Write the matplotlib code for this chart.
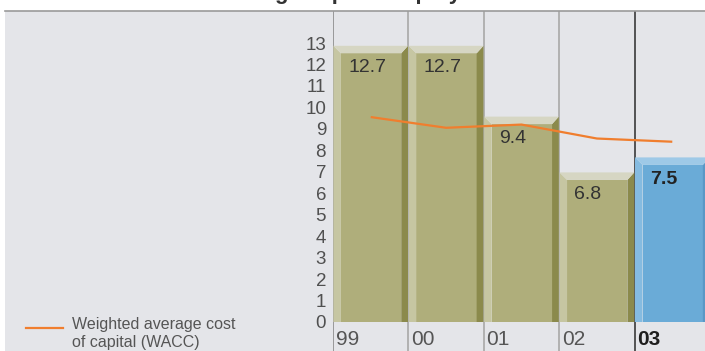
import matplotlib
matplotlib.use("Agg")
import matplotlib.pyplot as plt
from matplotlib.patches import Polygon, Rectangle
from matplotlib.lines import Line2D

plt.rcParams['font.family'] = ['Liberation Sans', 'DejaVu Sans']

# ---- data ----
years = ["99", "00", "01", "02", "03"]
roace = [12.7, 12.7, 9.4, 6.8, 7.5]
wacc = [9.55, 9.05, 9.2, 8.55, 8.4]
y_ticks = list(range(0, 14))
title = "Return on average capital employed"
legend_label = "Weighted average cost\nof capital (WACC)"

W, H = 705, 351
fig = plt.figure(figsize=(W / 100, H / 100), dpi=100)
fig.patch.set_facecolor("white")

# grey panel
panel_top = 10.5
fig.add_artist(Rectangle((5 / W, 0), 1, 1 - panel_top / H, transform=fig.transFigure,
                         facecolor="#e4e5e9", edgecolor="none", zorder=0))
fig.add_artist(Line2D([5 / W, 1], [1 - panel_top / H] * 2, transform=fig.transFigure,
                      color="#9a9a9a", lw=1.2, zorder=1))

# clipped title (only descenders visible, as in the reference)
fig.text(106 / W, 1 + 1.5 / H, title, ha="left", va="baseline", fontsize=16,
         fontweight="bold", color="#333333")

# axes in pixel geometry
x0 = 333
col = 75.4
zero_px = 322
unit = 21.46
ax = fig.add_axes([x0 / W, 0, (W - x0) / W, (H - panel_top) / H])
ax.set_facecolor("none")
ax.set_xlim(-0.5, -0.5 + (W - x0) / col)
ax.set_ylim(-(H - zero_px) / unit, (zero_px - panel_top) / unit)
for s in ax.spines.values():
    s.set_visible(False)
ax.set_xticks([])
ax.set_yticks(y_ticks)
ax.set_yticklabels([str(t) for t in y_ticks])
ax.tick_params(axis="y", length=0, pad=5, labelsize=13.5, labelcolor="#505050")

# column separators
for i in range(len(years)):
    if i == 0:
        c = "#8c8c8c"
    elif i == len(years) - 1:
        c = "#3a3a3a"
    else:
        c = "#a8a8a8"
    ax.axvline(i - 0.5, color=c, lw=1.2, zorder=1)

# bevelled bars
half_w = 0.495
lstrip = 0.1
rstrip = 0.09
bev_up = 0.17
bev_dn = 0.18
for i, v in enumerate(roace):
    last = i == len(roace) - 1
    if last:
        face, light, dark, top = "#6aabd7", "#85bbe0", "#5a98c6", "#9ec9e7"
    else:
        face, light, dark, top = "#afae7b", "#c6c6a2", "#8b8a4c", "#d6d6c3"
    L, R = i - half_w, i + half_w
    Li, Ri = L + lstrip, R - rstrip
    T, Ti = v + bev_up, v - bev_dn
    ax.add_patch(Rectangle((Li, 0), Ri - Li, Ti, facecolor=face, edgecolor="none", zorder=2))
    ax.add_patch(Polygon([(L, 0), (L, T), (Li, Ti), (Li, 0)], closed=True,
                         facecolor=light, edgecolor="none", zorder=2))
    ax.add_patch(Polygon([(Ri, 0), (Ri, Ti), (R, T), (R, 0)], closed=True,
                         facecolor=dark, edgecolor="none", zorder=2))
    ax.add_patch(Polygon([(L, T), (R, T), (Ri, Ti), (Li, Ti)], closed=True,
                         facecolor=top, edgecolor="none", zorder=2))
    ax.text(i - 0.5 + 0.2, Ti - 0.68, f"{v:.1f}", ha="left", va="center",
            fontsize=14, color="#222222" if last else "#333333",
            fontweight="bold" if last else "normal", zorder=4)
    ax.text(i - 0.5 + 0.035, -0.8, years[i], ha="left", va="center",
            fontsize=15, color="#1e1e1e" if last else "#555555",
            fontweight="bold" if last else "normal", zorder=4)

# WACC line
ax.plot(range(len(wacc)), wacc, color="#f07e2e", lw=1.6, zorder=3,
        solid_capstyle="butt")

# legend
fig.add_artist(Line2D([26 / W, 63 / W], [1 - 328 / H] * 2, transform=fig.transFigure,
                      color="#f07e2e", lw=1.6))
fig.text(72 / W, 1 - 333 / H, legend_label, ha="left", va="center", fontsize=11.5,
         color="#555555", linespacing=1.25)

fig.savefig("out.png", dpi=100)
